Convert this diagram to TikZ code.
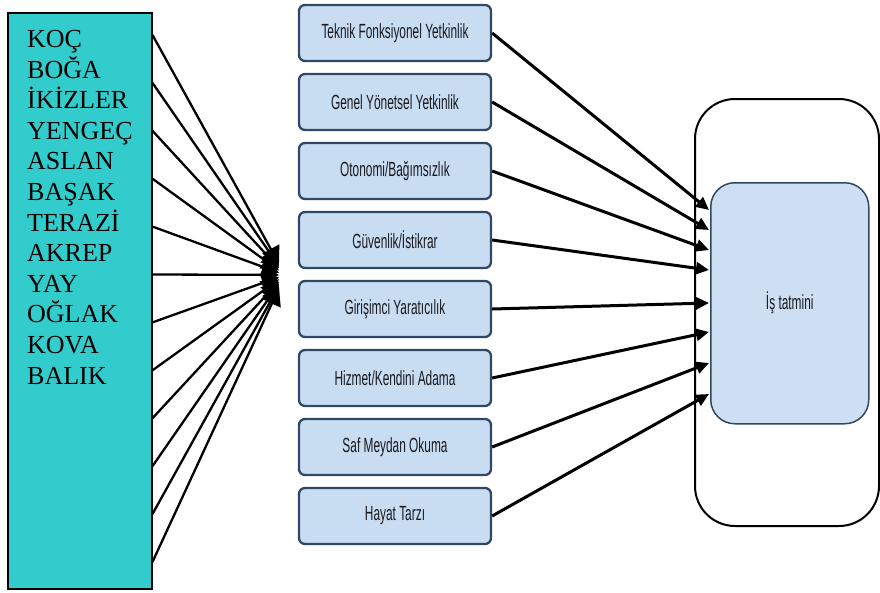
\documentclass[tikz,border=0pt]{standalone}
\usepackage{fontspec}
\usepackage{graphicx}
\setmainfont{Liberation Serif}
\newfontfamily\boxfont{Liberation Sans}
\usetikzlibrary{arrows.meta,calc}

\definecolor{signcyan}{RGB}{51,204,204}
\definecolor{stepfill}{RGB}{201,221,242}
\definecolor{stepedge}{RGB}{48,72,100}
\definecolor{goalfill}{RGB}{205,223,242}
\definecolor{labelgray}{RGB}{25,25,30}

\newcommand\narrowtext[1]{\scalebox{0.58}[1]{#1}}

\begin{document}
\begin{tikzpicture}[x=1pt,y=-1pt,
  stepbox/.style={draw=stepedge, line width=2.3pt, fill=stepfill,
    rounded corners=6pt, minimum width=192pt, minimum height=56pt,
    inner sep=0pt, text=labelgray, font=\boxfont\fontsize{20.5}{24}\selectfont},
  fanline/.style={line width=2.3pt, -{Triangle[length=17pt,width=19pt]}},
  conn/.style={line width=3pt, -{Triangle[length=13pt,width=12pt]}}]
\useasboundingbox (0,0) rectangle (880,592);

% zodiac sign list
\node[draw, fill=signcyan, line width=1.5pt, minimum width=144pt,
  minimum height=576pt, inner sep=0pt, anchor=north west] (signs) at (7,12) {};
\node[anchor=north west, inner sep=0pt, align=left,
  font=\fontsize{26}{30.6}\selectfont] (names) at (27,30)
  {KOÇ\\BOĞA\\İKİZLER\\YENGEÇ\\ASLAN\\BAŞAK\\TERAZİ\\AKREP\\YAY\\OĞLAK\\KOVA\\BALIK};

% fan of lines from the sign list to the hub
\coordinate (hub) at (279,276);
\foreach \k in {0,...,11}{
  \draw[fanline] ($(signs.north east)+(0,23+47.9*\k)$) -- ($(hub)+(0,{(\k-5.5)*2.2})$);
}

% career anchors
\node[stepbox] (b1) at (395,33)  {\narrowtext{Teknik Fonksiyonel Yetkinlik}};
\node[stepbox] (b2) at (395,102) {\narrowtext{Genel Yönetsel Yetkinlik}};
\node[stepbox] (b3) at (395,171) {\narrowtext{Otonomi/Bağımsızlık}};
\node[stepbox] (b4) at (395,240) {\narrowtext{Güvenlik/İstikrar}};
\node[stepbox] (b5) at (395,309) {\narrowtext{Girişimci Yaratıcılık}};
\node[stepbox] (b6) at (395,378) {\narrowtext{Hizmet/Kendini Adama}};
\node[stepbox] (b7) at (395,447) {\narrowtext{Saf Meydan Okuma}};
\node[stepbox] (b8) at (395,516) {\narrowtext{Hayat Tarzı}};

% outcome
\node[draw, line width=2pt, rounded corners=40pt, minimum width=184pt,
  minimum height=427pt, inner sep=0pt, anchor=north west] (frame) at (694,98) {};
\node[draw=stepedge, fill=goalfill, line width=1.5pt, rounded corners=24pt,
  minimum width=158pt, minimum height=241pt, inner sep=0pt, text=labelgray,
  font=\boxfont\fontsize{20.5}{24}\selectfont, anchor=north west] (goal) at (710,182)
  {\raisebox{-5pt}{\narrowtext{İş tatmini}}};

\coordinate (t1) at (709,210);
\coordinate (t2) at (709,230);
\coordinate (t3) at (709,250);
\coordinate (t4) at (709,270);
\coordinate (t5) at (709,303);
\coordinate (t6) at (709,332);
\coordinate (t7) at (709,363);
\coordinate (t8) at (709,394);

\foreach \i in {1,...,8}{
  \draw[conn] (b\i.east) -- (t\i);
}
\end{tikzpicture}
\end{document}
